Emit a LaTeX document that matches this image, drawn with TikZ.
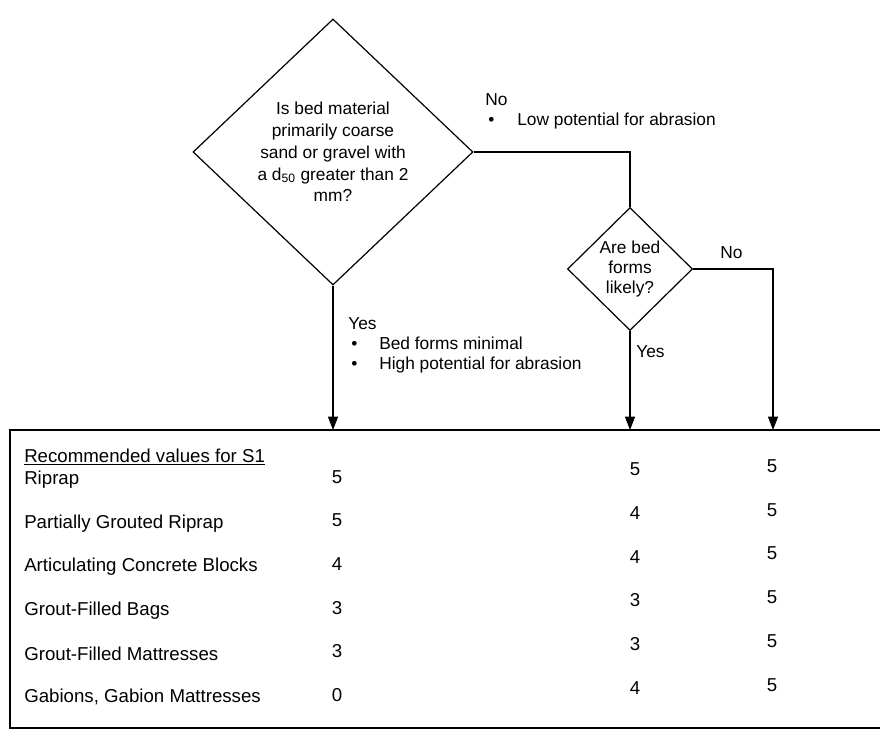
\documentclass[tikz,border=0pt]{standalone}
\usepackage{fontspec}
\setmainfont{Liberation Sans}
\usetikzlibrary{arrows.meta,positioning,shapes.geometric}

\begin{document}
\begin{tikzpicture}[
  x=0.75pt,y=-0.75pt,
  dec/.style={diamond,draw=black,line width=0.9pt,inner sep=0pt,align=center},
  lbl/.style={anchor=west,inner sep=0pt,align=left,font=\fontsize{13}{15}\selectfont},
  rowtxt/.style={anchor=west,inner sep=0pt,font=\fontsize{14}{16}\selectfont},
  val/.style={inner sep=0pt,font=\fontsize{14}{16}\selectfont},
  line/.style={line width=0.9pt},
  arr/.style={line,-{Triangle[length=10pt,width=7.5pt]}}
]
  \useasboundingbox (0,0) rectangle (880,734);
  \fill[white] (0,0) rectangle (880,734);

  % decisions
  \node[dec,minimum width=210pt,minimum height=199.5pt,
        font=\fontsize{13}{16.3}\selectfont] (bed) at (333,152)
    {Is bed material\\primarily coarse\\sand or gravel with\\a d\textsubscript{50} greater than 2\\mm?};
  \node[dec,minimum width=93.75pt,minimum height=92.25pt,
        font=\fontsize{13}{15}\selectfont] (forms) at (630,269)
    {Are bed\\forms\\likely?};

  % table of S1 values
  \coordinate (tl) at (10,430);
  \coordinate (bl) at (10,728);
  \draw[line] (880,430) -- (tl) -- (bl) -- (880,728);
  \coordinate (noend) at (773,430);

  \draw[line] (bed.east) -| (forms.north);
  \draw[arr] (bed.south) -- (bed.south |- tl);
  \draw[arr] (forms.south) -- (forms.south |- tl);
  \draw[arr] (forms.east) -| (noend);

  % branch labels
  \node[lbl] (nobed) at (485,111)
    {No\\\hspace*{2.25pt}\makebox[21.75pt][l]{\textbullet}Low potential for abrasion};
  \node[lbl] (yesbed) at (348,345)
    {Yes\\\hspace*{2.25pt}\makebox[21pt][l]{\textbullet}Bed forms minimal\\
     \hspace*{2.25pt}\makebox[21pt][l]{\textbullet}High potential for abrasion};
  \node[lbl] (noforms) at (720,253) {No};
  \node[lbl] (yesforms) at (636,352) {Yes};

  \node[rowtxt] (head) at (24,457) {\underline{Recommended values for S1}};
  \foreach \name/\a/\b/\c [count=\i from 0] in {
      Riprap/5/5/5,
      Partially Grouted Riprap/5/4/5,
      Articulating Concrete Blocks/4/4/5,
      Grout-Filled Bags/3/3/5,
      Grout-Filled Mattresses/3/3/5,
      {Gabions, Gabion Mattresses}/0/4/5}{
    \node[rowtxt] (row\i) at (24,{480+43.4*\i}) {\name};
    \node[val] (va\i) at (337,{477+43.6*\i}) {\a};
    \node[val] (vb\i) at (635,{469+43.8*\i}) {\b};
    \node[val] (vc\i) at (772,{466+43.8*\i}) {\c};
  }
\end{tikzpicture}
\end{document}
